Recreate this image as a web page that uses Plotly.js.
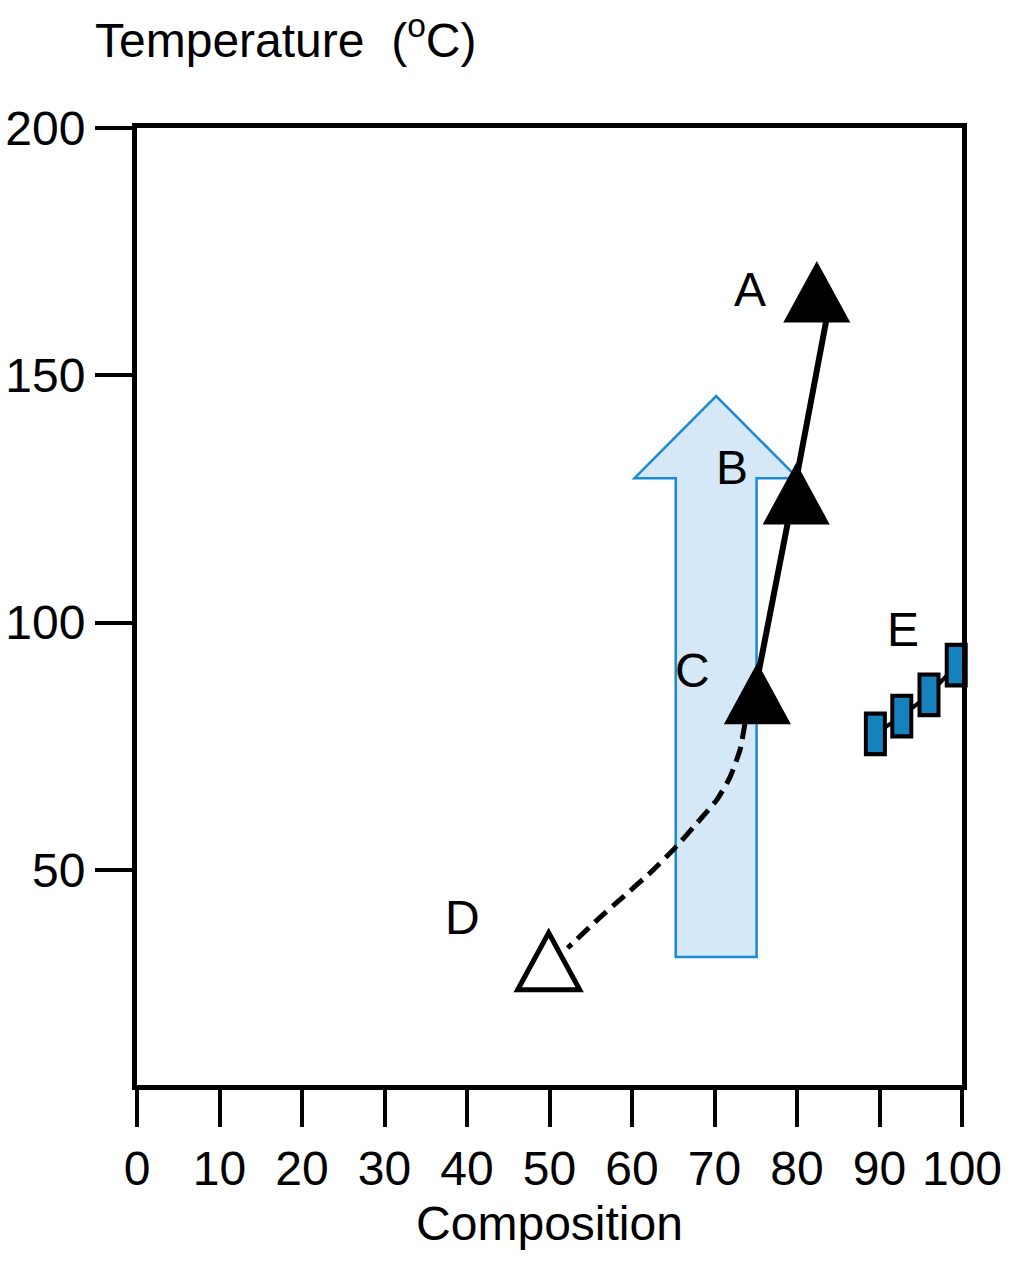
<!DOCTYPE html>
<html><head><meta charset="utf-8">
<script src="https://cdn.plot.ly/plotly-3.0.1.min.js"></script>
<style>html,body{margin:0;padding:0;background:#fff;}#chart{width:1024px;height:1271px;}</style>
</head><body><div id="chart"></div>
<script>
// ---- data ----
const xTicks = [0, 10, 20, 30, 40, 50, 60, 70, 80, 90, 100];
const yTicks = [50, 100, 150, 200];

// triangle points A, B, C (filled) and D (open)
const pointNames = ['A', 'B', 'C', 'D'];
const pointX = [82.4, 79.9, 75.2, 49.9];
const pointY = [164.8, 124.0, 83.6, 29.6];
const pointOpen = [false, false, false, true];

// solid trend line C -> B -> A
const solidX = [74.7, 77.8, 80.2, 83.9];
const solidY = [84.4, 110.6, 131.5, 164.2];

// dashed curve C -> D
const dashX = [73.7, 73.1, 71.9, 70.3, 67.9, 65.2, 62.2, 58.9, 55.8, 52.2];
const dashY = [79.7, 74.3, 68.8, 64.2, 59.5, 54.4, 49.4, 44.5, 39.9, 34.2];

// series E (blue bars)
const eX = [89.5, 92.7, 96.0, 99.3];
const eY = [77.5, 81.1, 85.4, 91.4];

// upward arrow outline
const arrowX = [65.3, 65.3, 60.3, 70.2, 80.1, 75.1, 75.1];
const arrowY = [32.4, 129.2, 129.2, 145.8, 129.2, 129.2, 32.4];

// text labels
const labelText = ['A', 'B', 'C', 'D', 'E'];
const labelX = [74.3, 72.1, 67.3, 39.4, 92.8];
const labelY = [167.3, 131.3, 90.4, 40.3, 98.5];

// ---- build ----
const FONT = 'Liberation Sans, Arial, Helvetica, sans-serif';

const traces = [
  { x: solidX, y: solidY, mode: 'lines', line: { color: '#000', width: 6 }, hoverinfo: 'skip' },
  { x: dashX, y: dashY, mode: 'lines', line: { color: '#000', width: 5, dash: '16px,8px', shape: 'spline', smoothing: 0.5 }, hoverinfo: 'skip' },
  { x: eX, y: eY, mode: 'lines', line: { color: '#000', width: 4 }, hoverinfo: 'skip' },
  { x: eX, y: eY, mode: 'markers', cliponaxis: false,
    marker: { symbol: 'line-ns', size: 32, color: '#000', line: { width: 23, color: '#000' } }, hoverinfo: 'skip' },
  { x: eX, y: eY, mode: 'markers', cliponaxis: false,
    marker: { symbol: 'line-ns', size: 26, color: '#1682bd', line: { width: 15, color: '#1682bd' } }, hoverinfo: 'skip' }
];

let arrowPath = 'M ' + arrowX[0] + ',' + arrowY[0];
for (let i = 1; i < arrowX.length; i++) arrowPath += ' L ' + arrowX[i] + ',' + arrowY[i];
arrowPath += ' Z';

const shapes = [
  { type: 'path', xref: 'x', yref: 'y', path: arrowPath, layer: 'below',
    fillcolor: '#d5e8f7', line: { color: '#1a8ad4', width: 2.5 } }
];
for (let i = 0; i < pointX.length; i++) {
  shapes.push({
    type: 'path', xref: 'x', yref: 'y', xsizemode: 'pixel', ysizemode: 'pixel',
    xanchor: pointX[i], yanchor: pointY[i],
    path: 'M -31,-19 L 31,-19 L 0,38 Z',
    fillcolor: pointOpen[i] ? '#ffffff' : '#000000',
    line: { color: '#000', width: pointOpen[i] ? 5 : 3 },
    layer: 'above'
  });
}

const annotations = labelText.map((t, i) => ({
  x: labelX[i], y: labelY[i], xref: 'x', yref: 'y', text: t, showarrow: false,
  xanchor: 'center', yanchor: 'middle', font: { family: FONT, size: 48, color: '#000' }
}));

const axisCommon = {
  ticks: 'outside', ticklen: 37, tickwidth: 4, tickcolor: '#000',
  showline: true, linewidth: 5, linecolor: '#000', mirror: true,
  showgrid: false, zeroline: false,
  tickfont: { family: FONT, size: 48, color: '#000' }
};

const layout = {
  width: 1024, height: 1271,
  margin: { l: 137, r: 62, t: 128, b: 186, pad: 0 },
  paper_bgcolor: '#fff', plot_bgcolor: '#fff',
  showlegend: false,
  font: { family: FONT, color: '#000' },
  title: { text: 'Temperature\u00a0 (<sup>o</sup>C)', font: { family: FONT, size: 48, color: '#000' },
    xref: 'container', yref: 'container', x: 95 / 1024, xanchor: 'left', y: 1 - 40 / 1271, yanchor: 'middle' },
  xaxis: Object.assign({}, axisCommon, {
    range: [0, 100], tickvals: xTicks, ticktext: xTicks.map(String),
    title: { text: 'Composition', font: { family: FONT, size: 48, color: '#000' }, standoff: 14 }
  }),
  yaxis: Object.assign({}, axisCommon, {
    range: [6.5, 200], tickvals: yTicks, ticktext: yTicks.map(String)
  }),
  shapes: shapes,
  annotations: annotations
};

Plotly.newPlot('chart', traces, layout, { displayModeBar: false, staticPlot: true });
</script>
</body></html>
